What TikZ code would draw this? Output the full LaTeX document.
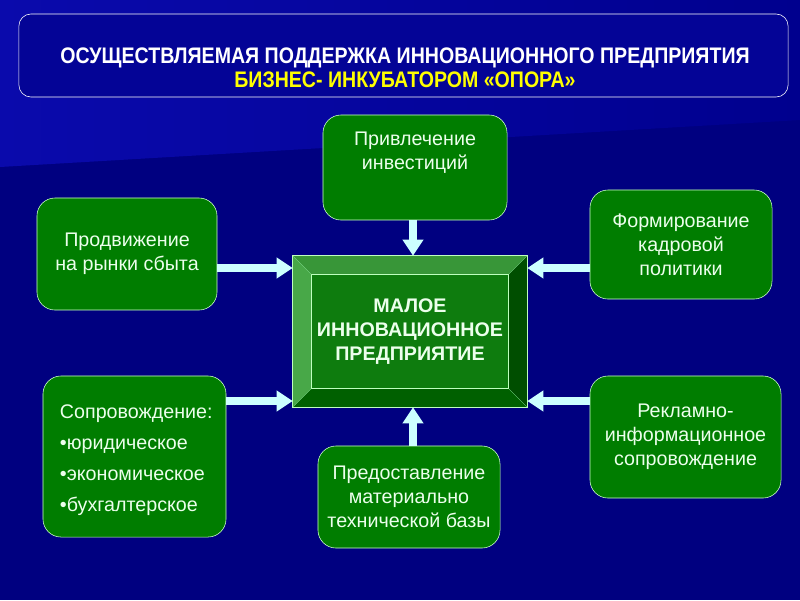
\documentclass[tikz,border=0pt]{standalone}
\usepackage{fontspec}
\setmainfont{Liberation Sans}
\newfontfamily\titlefont[FakeStretch=0.87]{Liberation Sans}
\usetikzlibrary{positioning,arrows.meta}
\definecolor{navy-bg}{RGB}{0,0,128}
\definecolor{navy-top}{RGB}{10,10,172}
\definecolor{navy-fade}{RGB}{0,0,142}
\definecolor{title-blue}{RGB}{4,4,150}
\definecolor{panel-green}{RGB}{0,125,0}
\definecolor{arrow-cyan}{RGB}{204,255,255}
\definecolor{title-yellow}{RGB}{255,255,0}
\definecolor{bev-left}{RGB}{72,168,72}
\definecolor{bev-top}{RGB}{56,150,56}
\definecolor{bev-right}{RGB}{0,78,0}
\definecolor{bev-bottom}{RGB}{0,96,0}
\definecolor{face-green}{RGB}{14,124,14}
\definecolor{pale-text}{RGB}{236,255,236}

\tikzset{
  panel/.style={draw=white!80!green, thin, fill=panel-green, rounded corners=0.45cm},
  paneltext/.style={text=pale-text, font=\fontsize{14}{17}\selectfont, align=center},
  feed/.style={draw=arrow-cyan, line width=0.2cm, -{Triangle[length=0.4cm,width=0.5cm]}},
}

\begin{document}
\begin{tikzpicture}[x=0.025cm,y=-0.025cm]
	% background
	\fill[navy-bg] (0,0) rectangle (800,600);
	\shade[left color=navy-top, right color=navy-fade] (0,0) -- (800,0) -- (800,120) -- (0,167) -- cycle;
	\useasboundingbox (0,0) rectangle (800,600);

	% title
	\node[draw=white, thin, fill=title-blue, rounded corners=0.3cm,
		minimum width=19.225cm, minimum height=2.075cm] (title) at (403.5,55.5) {};
	\node[align=center, font=\titlefont\bfseries\fontsize{16}{17}\selectfont, text=white] (title-text) at (405,68)
		{ОСУЩЕСТВЛЯЕМАЯ ПОДДЕРЖКА ИННОВАЦИОННОГО ПРЕДПРИЯТИЯ\\
		 \textcolor{title-yellow}{БИЗНЕС- ИНКУБАТОРОМ «ОПОРА»}};

	% panels
	\node[panel, minimum width=4.6cm, minimum height=2.625cm] (invest) at (415,167.5) {};
	\node[paneltext] (invest-text) at (415,153) {Привлечение\\инвестиций};
	\node[panel, paneltext, minimum width=4.5cm, minimum height=2.8cm] (market) at (127,254) {Продвижение\\на рынки сбыта};
	\node[panel, paneltext, minimum width=4.55cm, minimum height=2.725cm] (staff) at (681,244.5) {Формирование\\кадровой\\политики};
	\node[panel, minimum width=4.575cm, minimum height=4.025cm] (support) at (134.5,456.5) {};
	\node[paneltext, align=left, anchor=west, font=\fontsize{14}{22}\selectfont] (support-text) at (55,460)
		{Сопровождение:\\•юридическое\\•экономическое\\•бухгалтерское};
	\node[panel, paneltext, minimum width=4.775cm, minimum height=3.05cm] (promo) at (685.5,437) {Рекламно-\\информационное\\сопровождение};
	\node[panel, paneltext, minimum width=4.55cm, minimum height=2.55cm] (base) at (409,497) {Предоставление\\материально\\технической базы};

	% centre block
	\node[minimum width=5.85cm, minimum height=3.775cm] (frame) at (410,331.5) {};
	\node[fill=face-green, minimum width=4.9cm, minimum height=2.825cm, inner sep=0pt,
		text=pale-text, align=center, font=\bfseries\fontsize{14}{17}\selectfont] (sme) at (410,331.5)
		{МАЛОЕ\\ИННОВАЦИОННОЕ\\ПРЕДПРИЯТИЕ};
	\fill[bev-top] (frame.north west) -- (frame.north east) -- (sme.north east) -- (sme.north west) -- cycle;
	\fill[bev-left] (frame.north west) -- (sme.north west) -- (sme.south west) -- (frame.south west) -- cycle;
	\fill[bev-right] (frame.north east) -- (frame.south east) -- (sme.south east) -- (sme.north east) -- cycle;
	\fill[bev-bottom] (frame.south west) -- (sme.south west) -- (sme.south east) -- (frame.south east) -- cycle;
	\draw[white!75!green, thin] (frame.north west) rectangle (frame.south east);
	\draw[white!75!green, thin] (sme.north west) rectangle (sme.south east);
	\draw[white!60!green, very thin] (frame.north west) -- (sme.north west) (frame.north east) -- (sme.north east)
		(frame.south west) -- (sme.south west) (frame.south east) -- (sme.south east);

	% arrows
	\coordinate (row-a) at (0,268);
	\coordinate (row-b) at (0,401);
	\coordinate (col) at (413,0);
	\draw[feed] (market.east |- row-a) -- (frame.west |- row-a);
	\draw[feed] (support.east |- row-b) -- (frame.west |- row-b);
	\draw[feed] (staff.west |- row-a) -- (frame.east |- row-a);
	\draw[feed] (promo.west |- row-b) -- (frame.east |- row-b);
	\draw[feed] (invest.south -| col) -- (frame.north -| col);
	\draw[feed] (base.north -| col) -- (frame.south -| col);
\end{tikzpicture}
\end{document}
